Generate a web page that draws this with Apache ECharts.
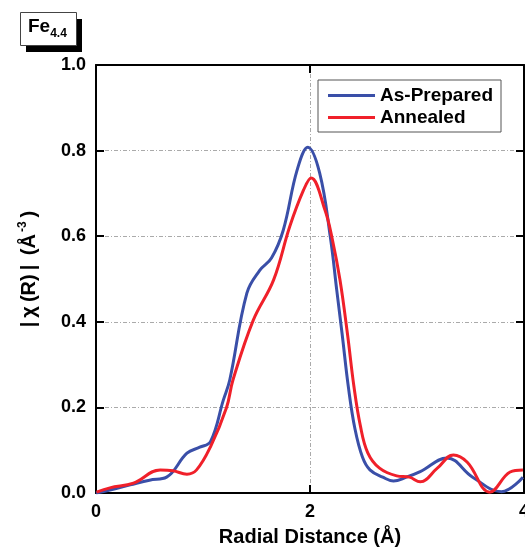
<!DOCTYPE html>
<html><head><meta charset="utf-8">
<script src="https://cdn.jsdelivr.net/npm/echarts@6/dist/echarts.min.js"></script>
<style>html,body{margin:0;padding:0;background:#fff}#c{width:525px;height:555px}</style>
</head><body><div id="c"></div>
<script>
const xTicks = [0, 2, 4];
const yTicks = ['0.0','0.2','0.4','0.6','0.8','1.0'];
const asPreparedR = [0, 0.13, 0.32, 0.5, 0.66, 0.85, 0.97, 1.07, 1.19, 1.25, 1.41, 1.53, 1.64, 1.75, 1.88, 1.98, 2.09, 2.19, 2.25, 2.30, 2.36, 2.42, 2.49, 2.56, 2.68, 2.78, 2.9, 3.03, 3.28, 3.52, 3.79, 3.99];
const asPreparedChi = [0, 0.007, 0.019, 0.03, 0.037, 0.093, 0.107, 0.12, 0.217, 0.264, 0.467, 0.52, 0.549, 0.614, 0.755, 0.808, 0.748, 0.598, 0.474, 0.372, 0.245, 0.15, 0.084, 0.054, 0.037, 0.028, 0.037, 0.05, 0.082, 0.037, 0.003, 0.037];
const annealedR = [0.005, 0.13, 0.35, 0.6, 0.72, 0.85, 0.94, 1.07, 1.22, 1.28, 1.47, 1.66, 1.81, 1.94, 2.01, 2.14, 2.21, 2.28, 2.35, 2.41, 2.47, 2.54, 2.65, 2.81, 2.93, 3.03, 3.19, 3.34, 3.47, 3.68, 3.87, 3.99];
const annealedChi = [0.002, 0.012, 0.023, 0.054, 0.052, 0.044, 0.054, 0.108, 0.2, 0.264, 0.404, 0.498, 0.622, 0.708, 0.736, 0.661, 0.591, 0.498, 0.372, 0.25, 0.158, 0.094, 0.058, 0.04, 0.037, 0.026, 0.058, 0.089, 0.072, 0.002, 0.049, 0.054];
const seriesNames = ['As-Prepared', 'Annealed'];

const zip = (a, b) => a.map((v, i) => [v, b[i]]);
const font = 'Liberation Sans, Arial, sans-serif';
const chart = echarts.init(document.getElementById('c'));
const gridLine = {show: true, lineStyle: {color: '#aaa', type: [4, 2, 1, 2], width: 1}};
const tick = {show: true, inside: true, length: 8, lineStyle: {color: '#000', width: 2}};
const ax = {show: true, onZero: false, lineStyle: {color: '#000', width: 2}};
const nm = {fontFamily: font, fontWeight: 'bold', fontSize: 20, color: '#000', padding: [0, 2, 0, 2]};
chart.setOption({
  animation: false,
  grid: {left: 96, right: 1, top: 65, bottom: 62, outerBoundsMode: 'none', containLabel: false},
  legend: {
    orient: 'vertical', right: 24, top: 80, data: seriesNames,
    borderColor: '#555', borderWidth: 1, padding: [6, 8, 5, 10], itemGap: 3,
    itemWidth: 47, itemHeight: 3, icon: 'rect',
    textStyle: {fontFamily: font, fontWeight: 'bold', fontSize: 19, color: '#000'}
  },
  xAxis: [{
    type: 'value', min: 0, max: 4, interval: 2,
    name: 'Radial Distance (Å)', nameLocation: 'middle', nameGap: 34,
    nameTextStyle: {fontFamily: font, fontWeight: 'bold', fontSize: 20, color: '#000', verticalAlign: 'top'},
    axisLine: ax, axisTick: tick,
    axisLabel: {fontFamily: font, fontWeight: 'bold', fontSize: 18, color: '#000', margin: 10,
      formatter: v => xTicks.includes(v) ? String(v) : ''},
    splitLine: gridLine
  }, {
    type: 'value', min: 0, max: 4, interval: 2, position: 'top',
    axisLine: ax, axisTick: tick,
    axisLabel: {show: false}, splitLine: {show: false}
  }],
  yAxis: [{
    type: 'value', min: 0, max: 1, interval: 0.2,
    name: '{a||}{a|χ}{a|(R)}{a||}{a| (Å}{s|-3}{a|)}', nameLocation: 'middle', nameGap: 55, nameRotate: 90,
    nameTextStyle: {padding: [0, 0, 0, 20], rich: {
      a: nm,
      s: {fontFamily: font, fontWeight: 'bold', fontSize: 12, color: '#000', verticalAlign: 'top', padding: [0, 2, 12, 0]}
    }},
    axisLine: ax, axisTick: tick,
    axisLabel: {fontFamily: font, fontWeight: 'bold', fontSize: 18, color: '#000', margin: 10,
      formatter: v => yTicks[Math.round(v * 5)]},
    splitLine: gridLine
  }, {
    type: 'value', min: 0, max: 1, interval: 0.2, position: 'right',
    axisLine: ax, axisTick: tick,
    axisLabel: {show: false}, splitLine: {show: false}
  }],
  series: [{
    name: seriesNames[0], type: 'line', smooth: 0.4, showSymbol: false, symbol: 'none',
    data: zip(asPreparedR, asPreparedChi), color: '#3a4fa8',
    lineStyle: {width: 3, color: '#3a4fa8'}, z: 3
  }, {
    name: seriesNames[1], type: 'line', smooth: 0.4, showSymbol: false, symbol: 'none',
    data: zip(annealedR, annealedChi), color: '#f0202a',
    lineStyle: {width: 3, color: '#f0202a'}, z: 4
  }],
  graphic: [
    {type: 'rect', shape: {x: 26, y: 19, width: 56, height: 33}, style: {fill: '#000'}},
    {type: 'rect', shape: {x: 20.5, y: 12.5, width: 56, height: 33}, style: {fill: '#fff', stroke: '#444', lineWidth: 1}},
    {type: 'text', left: 28, top: 17, style: {
      text: '{f|Fe}{s|4.4}', rich: {
        f: {fontFamily: font, fontWeight: 'bold', fontSize: 19, fill: '#000'},
        s: {fontFamily: font, fontWeight: 'bold', fontSize: 12, fill: '#000', padding: [14, 0, 0, 0]}
      }}}
  ]
});
</script></body></html>
